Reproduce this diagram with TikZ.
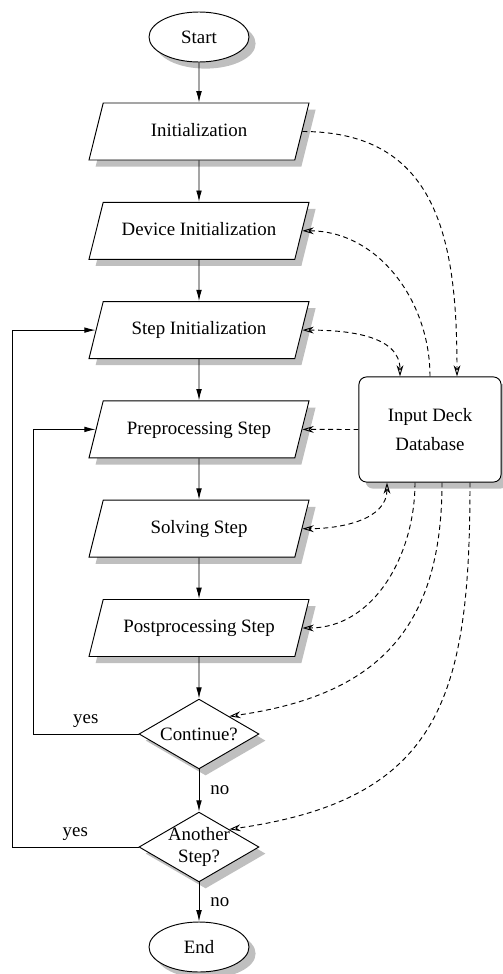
\documentclass[tikz,border=0pt]{standalone}
\usepackage{fontspec}
\setmainfont{Liberation Serif}
\usetikzlibrary{arrows.meta}
\usetikzlibrary{positioning}
\usetikzlibrary{calc}
\usetikzlibrary{shapes.geometric}
\usetikzlibrary{shadows}
\tikzset{basic box/.style={draw,
                           fill=white,
                           line width=.5pt,
                           drop shadow={shadow xshift=3.5pt,shadow yshift=-3.5pt,fill=black!25,opacity=1}}}
\tikzset{flow/.style={draw,line width=.5pt,-{Latex[length=6pt,width=3pt]}}}
\tikzset{data/.style={draw,
                      line width=.5pt,
                      dash pattern=on 2.6pt off 1.9pt,
                      >={Stealth[open,length=6pt,width=3.6pt]},->}}

\begin{document}
\begin{tikzpicture}
      [
      x=.53pt,y=.53pt,
      font=\fontsize{10}{12}\selectfont,
      terminal/.style={basic box,ellipse,minimum width=53pt,minimum height=26.5pt,inner sep=0pt},
      io box/.style={basic box,
      trapezium,trapezium left angle=76,trapezium right angle=104,
      trapezium stretches body,
      text height=7pt,text depth=2pt,inner xsep=0pt,inner ysep=10.6pt,
      minimum width=116.6pt},
      decision/.style={basic box,diamond,minimum width=63.6pt,minimum height=37pt,inner sep=0pt},
      deck/.style={basic box,rounded corners=4pt,minimum width=75.3pt,minimum height=55.7pt,align=center},
      ]

      \useasboundingbox (0,0) rectangle (503,-974);

      % terminals
      \node [terminal] (start) at (199,-37) {Start};
      \node [terminal] (end) at (199,-947) {End};

      % steps
      \foreach \i/\t [evaluate=\i as \y using -131.5-99.3*(\i-1)] in
      {
      1/Initialization,
      2/Device Initialization,
      3/Step Initialization,
      4/Preprocessing Step,
      5/Solving Step,
      6/Postprocessing Step
      }
      {
      \node [io box] (S\i) at (199,\y) {\t};
      }

      % decisions
      \node [decision,label=center:Continue?] (cont) at (199,-734) {};
      \node [decision,label={[align=center]center:Another\\Step?}] (another) at (199,-847) {};

      % database
      \node [deck] (db) at (430,-429.5) {Input Deck\\[3pt]Database};

      % control flow
      \draw [flow] (start) -- (S1);
      \foreach \i [evaluate=\i as \j using int(\i+1)] in {1,...,5}
      \draw [flow] (S\i) -- (S\j);
      \draw [flow] (S6) -- (cont);
      \draw [flow] (cont) -- node [right=2.5pt] {no} (another);
      \draw [flow] (another) -- node [right=2.5pt] {no} (end);

      \coordinate (back1) at (33,0);
      \coordinate (back2) at (12,0);
      \draw [flow] (cont.west) -- node [above] {yes} (cont.west -| back1) |- (S4.west);
      \draw [flow] (another.west) -- node [above] {yes} (another.west -| back2) |- (S3.west);

      % data flow
      \draw [data] (S1.east) to [out=0,in=90,looseness=1.2] ($(db.north)+(27,0)$);
      \draw [data] (db.north) to [out=90,in=0] (S2.east);
      \draw [data,<->] (S3.east) to [out=0,in=90] ($(db.north)+(-30,0)$);
      \draw [data] (db.west) -- (S4.east);
      \draw [data,<->] ($(db.south)+(-43,0)$) to [out=-90,in=0] (S5.east);
      \draw [data] ($(db.south)+(-15,0)$) to [out=-90,in=0] (S6.east);
      \draw [data] ($(db.south)+(12,0)$) to [out=-90,in=8,looseness=1.2] (cont.north east);
      \draw [data] ($(db.south)+(40,0)$) to [out=-90,in=8,looseness=1.3] (another.north east);

\end{tikzpicture}
\end{document}
